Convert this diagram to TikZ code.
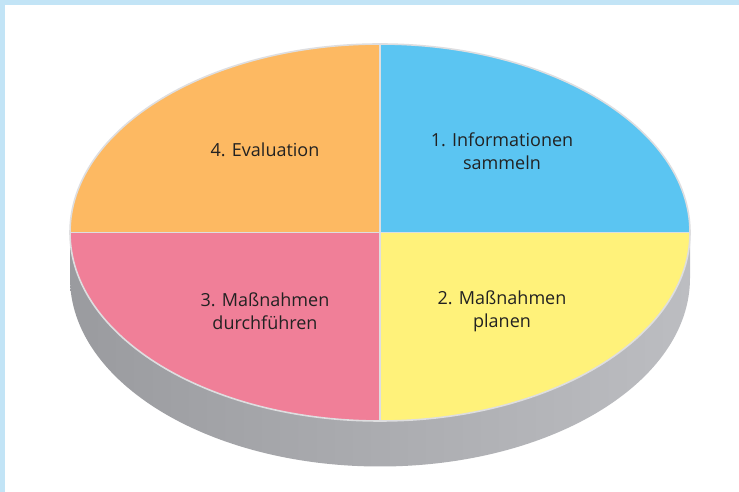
\documentclass[tikz,border=0pt]{standalone}
\usepackage{fontspec}
\setmainfont{Open Sans}
\definecolor{framebl}{HTML}{C2E4F6}
\definecolor{infoblue}{HTML}{5BC5F2}
\definecolor{planyellow}{HTML}{FFF27A}
\definecolor{dopink}{HTML}{F07F98}
\definecolor{evalorange}{HTML}{FDB962}
\definecolor{sidedark}{HTML}{9A9B9F}
\definecolor{sidelight}{HTML}{BCBDC1}
\definecolor{rimgray}{HTML}{DEDEE0}
\definecolor{txtdark}{HTML}{222222}
\begin{document}
\begin{tikzpicture}[x=1pt,y=1pt,
    sep/.style={draw=rimgray,line width=1.6pt},
    phasetext/.style={align=center,text=txtdark,font=\fontsize{18}{23}\selectfont}]
    \useasboundingbox (0,0) rectangle (739,492);
    %% frame
    \fill[framebl] (0,0) rectangle (739,492);
    \fill[white] (5,0) rectangle (739,487);
    \coordinate (c) at (380,259.5);
    %% side of the disc
    \shade[left color=sidedark,right color=sidelight] (70,259.5) -- (70,214)
        arc[start angle=180,end angle=360,x radius=310,y radius=188.5] -- (690,259.5)
        arc[start angle=0,end angle=-180,x radius=310,y radius=188.5] -- cycle;
    %% quarters
    \foreach \a/\col in {0/infoblue,90/evalorange,180/dopink,270/planyellow}
        \fill[\col] (c) -- ++(\a:310 and 188.5)
            arc[start angle=\a,delta angle=90,x radius=310,y radius=188.5] -- cycle;
    %% separators and rim
    \draw[sep] (c) ++(-310,0) -- ++(620,0);
    \draw[sep] (c) ++(0,-188.5) -- ++(0,377);
    \draw[sep] (c) ellipse[x radius=310,y radius=188.5];
    %% labels
    \node[phasetext] (info) at (502,341) {1. Informationen\\sammeln};
    \node[phasetext] (plan) at (502,181) {2. Maßnahmen\\planen};
    \node[phasetext] (act) at (265,181) {3. Maßnahmen\\durchführen};
    \node[phasetext] (eval) at (265,342) {4. Evaluation};
\end{tikzpicture}
\end{document}
